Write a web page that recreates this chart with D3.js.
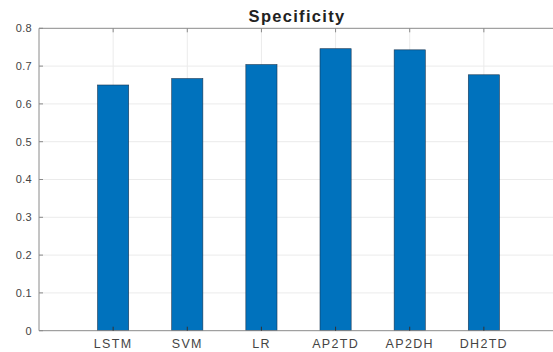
<!DOCTYPE html>
<html><head><meta charset="utf-8">
<script src="https://cdn.jsdelivr.net/npm/d3@7"></script>
<style>body{margin:0;background:#fff;}svg{display:block;}</style>
</head><body>
<script>
const categories = ["LSTM","SVM","LR","AP2TD","AP2DH","DH2TD"];
const values = [0.650, 0.667, 0.704, 0.746, 0.743, 0.677];
const yTicks = [0,0.1,0.2,0.3,0.4,0.5,0.6,0.7,0.8];
const title = "Specificity";

const W = 553, H = 352;
const m = {left:39, top:28.3, right:558, bottom:330.7};
const svg = d3.select("body").append("svg").attr("width",W).attr("height",H);

const x = d3.scaleLinear().domain([0,7]).range([m.left, m.right]);
const y = d3.scaleLinear().domain([0,0.8]).range([m.bottom, m.top]);
const pos = categories.map((c,i)=>i+1);

// grid
const g = svg.append("g");
g.selectAll(".hg").data(yTicks.slice(1,-1)).join("line")
  .attr("x1",m.left).attr("x2",m.right).attr("y1",d=>y(d)).attr("y2",d=>y(d))
  .attr("stroke","#ebebeb").attr("stroke-width",1);
g.selectAll(".vg").data(pos).join("line")
  .attr("x1",d=>x(d)).attr("x2",d=>x(d)).attr("y1",m.top).attr("y2",m.bottom)
  .attr("stroke","#ebebeb").attr("stroke-width",1);

// bars
const bw = 0.42;
svg.selectAll(".bar").data(values).join("rect")
  .attr("x",(d,i)=>x(pos[i]-bw/2)).attr("width",x(bw)-x(0))
  .attr("y",d=>y(d)).attr("height",d=>y(0)-y(d))
  .attr("fill","#0072BD").attr("stroke","#1a3550").attr("stroke-width",0.6);

// axes box
const axCol = "#8a8a8a";
svg.append("line").attr("x1",m.left).attr("x2",m.left).attr("y1",m.top).attr("y2",m.bottom).attr("stroke",axCol);
svg.append("line").attr("x1",m.left).attr("x2",m.right).attr("y1",m.bottom).attr("y2",m.bottom).attr("stroke",axCol);
svg.append("line").attr("x1",m.left).attr("x2",m.right).attr("y1",m.top).attr("y2",m.top).attr("stroke",axCol);
svg.append("line").attr("x1",m.right).attr("x2",m.right).attr("y1",m.top).attr("y2",m.bottom).attr("stroke",axCol);

// ticks (inward)
svg.selectAll(".yt").data(yTicks).join("line")
  .attr("x1",m.left).attr("x2",m.left+4).attr("y1",d=>y(d)).attr("y2",d=>y(d)).attr("stroke",axCol);
svg.selectAll(".yt2").data(yTicks).join("line")
  .attr("x1",m.right-5).attr("x2",m.right).attr("y1",d=>y(d)).attr("y2",d=>y(d)).attr("stroke",axCol);
svg.selectAll(".xt").data(pos).join("line")
  .attr("x1",d=>x(d)).attr("x2",d=>x(d)).attr("y1",m.top).attr("y2",m.top+4).attr("stroke",axCol);
svg.selectAll(".xb").data(pos).join("line")
  .attr("x1",d=>x(d)).attr("x2",d=>x(d)).attr("y1",m.bottom).attr("y2",m.bottom-4).attr("stroke","#333");

// labels
const font = "'Liberation Sans', Arial, sans-serif";
svg.selectAll(".yl").data(yTicks).join("text")
  .attr("x",m.left-7).attr("y",d=>y(d)).attr("dy","0.35em")
  .attr("text-anchor","end").attr("font-family",font).attr("font-size",11)
  .attr("letter-spacing",0.3)
  .attr("fill","#444").text(d=>d===0?"0":d.toFixed(1));
svg.selectAll(".xl").data(categories).join("text")
  .attr("x",(d,i)=>x(pos[i])).attr("y",m.bottom+17)
  .attr("text-anchor","middle").attr("font-family",font).attr("font-size",12.5)
  .attr("letter-spacing",1.3)
  .attr("fill","#444").text(d=>d);
svg.append("text").attr("x",297).attr("y",22).attr("text-anchor","middle")
  .attr("font-family",font).attr("font-size",16.5).attr("font-weight","bold")
  .attr("letter-spacing",1.3)
  .attr("fill","#222").text(title);
</script>
</body></html>
